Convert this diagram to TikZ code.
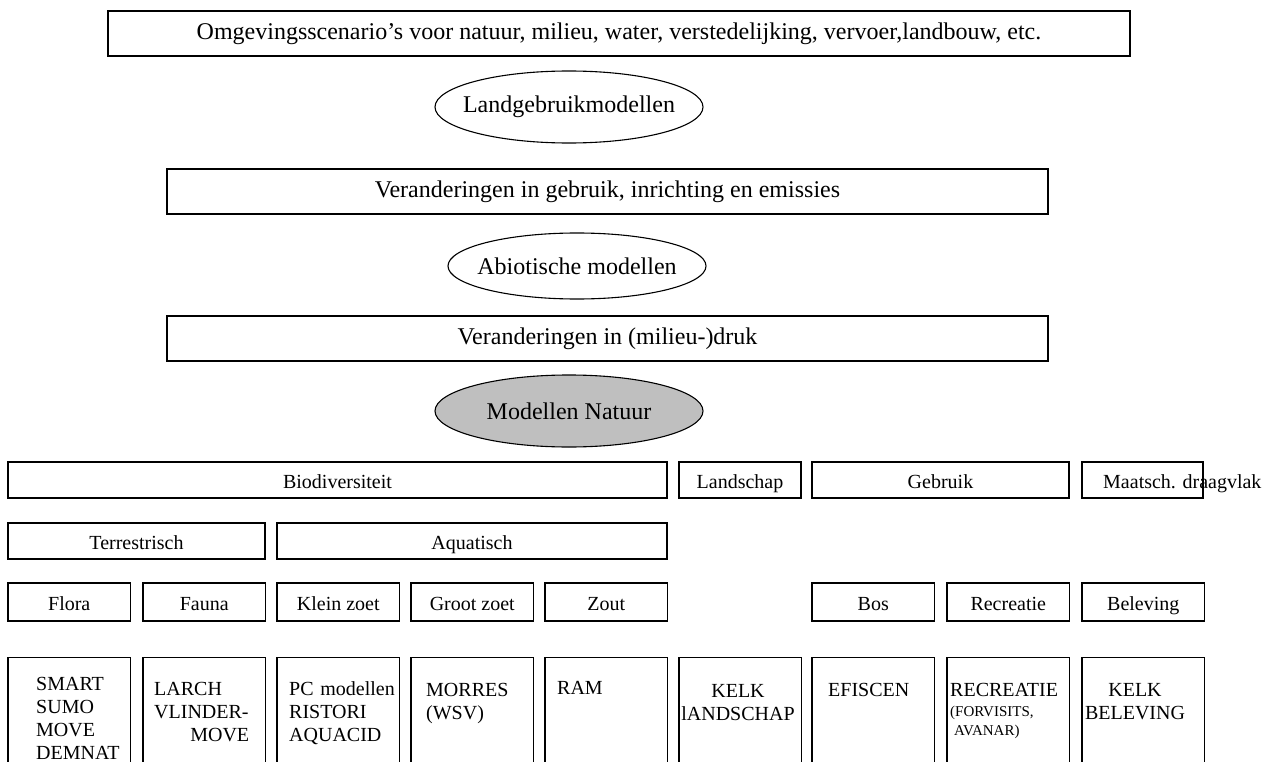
\documentclass[tikz,border=0pt]{standalone}
\usepackage{fontspec}
\setmainfont{Liberation Serif}
\usetikzlibrary{shapes.geometric}

\tikzset{
  bigbox/.style={draw, line width=1.1pt, inner sep=0, minimum height=45, font=\fontsize{24}{28}\selectfont},
  modell/.style={draw, ellipse, line width=1.1pt, inner xsep=-25pt, inner ysep=0, minimum width=268, minimum height=72, font=\fontsize{24}{28}\selectfont},
  catbox/.style={draw, line width=1.1pt, inner sep=0, minimum height=36, text height=16, text depth=0, font=\fontsize{20}{23}\selectfont},
  subbox/.style={catbox, line width=1.7pt},
  themebox/.style={catbox, minimum width=122.5, minimum height=38},
  modbox/.style={draw, line width=1.1pt, inner sep=0, anchor=north, minimum width=122.5, minimum height=140},
  modtxt/.style={inner sep=0, anchor=base west, align=left, text width=130, font=\fontsize{20}{23}\selectfont}
}

\begin{document}
\begin{tikzpicture}[x=1pt, y=-1pt]
  \useasboundingbox (0,0) rectangle (1276,762);

  % Scenario's en modelketen
  \node[bigbox, minimum width=1022] (scen) at (619,33.5) {Omgevingsscenario’s voor natuur, milieu, water, verstedelijking, vervoer,landbouw, etc.};
  \node[modell] (landgebr) at (569,107) {Landgebruikmodellen};
  \node[bigbox, minimum width=881] (gebruik) at (607.5,191.5) {Veranderingen in gebruik, inrichting en emissies};
  \node[modell, minimum width=258, minimum height=66] (abiot) at (577,266) {Abiotische modellen};
  \node[bigbox, minimum width=881] (druk) at (607.5,338.5) {Veranderingen in (milieu-)druk};
  \node[modell, fill=gray!50] (natuur) at (569,411) {Modellen Natuur};

  % Indicatoren
  \node[catbox, minimum width=659] (biodiv) at (337.5,480) {Biodiversiteit};
  \node[catbox, minimum width=122] (landsch) at (740,480) {Landschap};
  \node[catbox, minimum width=257] (gebr) at (940.5,480) {Gebruik};
  \node[catbox, minimum width=121] (maatsch) at (1142.5,480) {};
  \node[modtxt, text width=] (maatschtxt) at (1103,488) {Maatsch. draagvlak};

  \node[subbox, minimum width=257] (terr) at (136.5,541) {Terrestrisch};
  \node[subbox, minimum width=390] (aqua) at (472,541) {Aquatisch};

  \foreach \x/\n/\t in {8/flora/Flora, 143/fauna/Fauna, 277/klein/Klein zoet,
      411/groot/Groot zoet, 545/zout/Zout, 812/bos/Bos, 947/recr/Recreatie,
      1082/belev/Beleving}
    \node[themebox] (\n) at (\x+61.25,602) {\t};

  % Modellen per thema
  \foreach \x/\n in {8/smart, 143/larch, 277/pc, 411/morres, 545/ram,
      679/kelkl, 812/efiscen, 947/recreatie, 1082/kelkb}
    \node[modbox] (\n) at (\x+61.25,657) {};

  \node[modtxt] (smarttxt) at (36,690) {SMART\\SUMO\\MOVE\\DEMNAT};
  \node[modtxt, text width=95] (larchtxt) at (154,695) {LARCH\\VLINDER-\\\hskip0pt plus1fill MOVE};
  \node[modtxt] (pctxt) at (289,695) {PC modellen\\RISTORI\\AQUACID};
  \node[modtxt] (morrestxt) at (426,696) {MORRES\\(WSV)};
  \node[modtxt] (ramtxt) at (557,694) {RAM};
  \node[modtxt, anchor=base, align=center, text width=120] (kelkltxt) at (738,697) {KELK\\lANDSCHAP};
  \node[modtxt] (efiscentxt) at (828,696) {EFISCEN};
  \node[modtxt] (recrtxt) at (950,696) {RECREATIE};
  \node[modtxt, font=\fontsize{15}{19}\selectfont] (forvtxt) at (950,716) {(FORVISITS,\\\hskip4pt AVANAR)};
  \node[modtxt, anchor=base, align=center, text width=120] (kelkbtxt) at (1135,696) {KELK\\BELEVING};
\end{tikzpicture}
\end{document}
